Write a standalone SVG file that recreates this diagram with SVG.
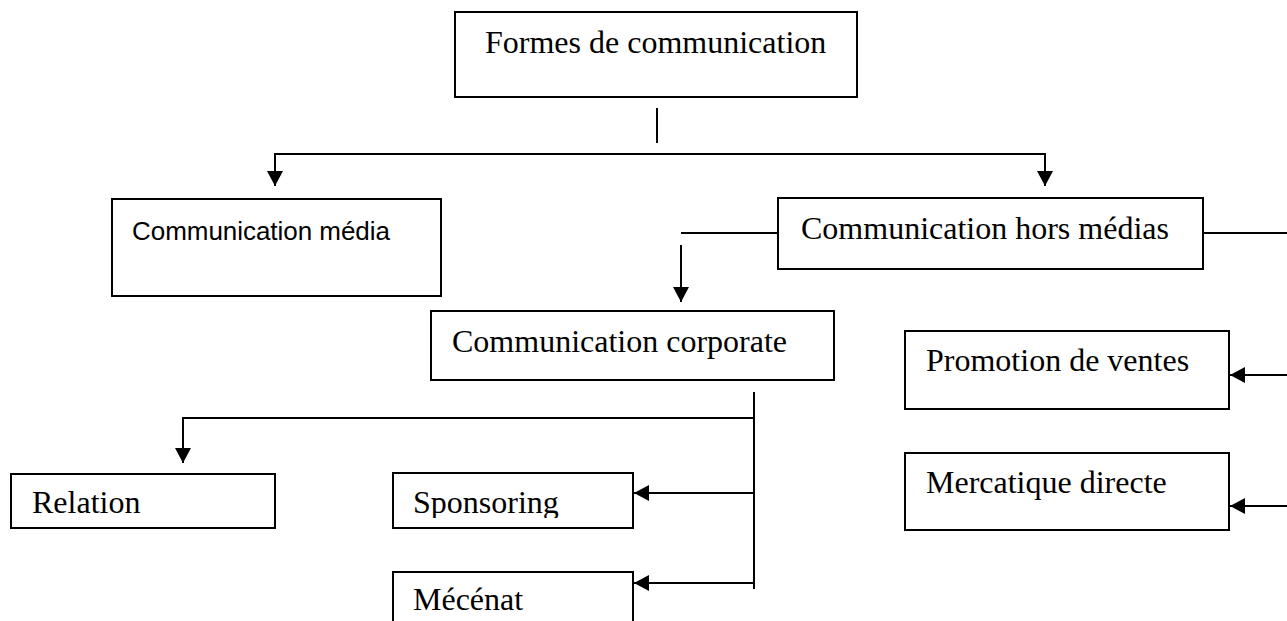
<svg xmlns="http://www.w3.org/2000/svg" width="1287" height="621" viewBox="0 0 1287 621">
<style>
.box{fill:#fff;stroke:#000;stroke-width:2}
.t{font-family:"Liberation Serif","Times New Roman",serif;font-size:32px;fill:#000}
.s{font-family:"Liberation Sans",Arial,sans-serif;font-size:26px;fill:#000}
.c{fill:none;stroke:#000;stroke-width:2}
</style>
<defs>
<marker id="ah" markerUnits="userSpaceOnUse" markerWidth="17" markerHeight="17" refX="15" refY="8" orient="auto">
<path d="M0,0 L15,8 L0,16 z" fill="#000"/>
</marker>
<clipPath id="clipSpons"><rect x="393" y="473" width="240" height="45"/></clipPath>
</defs>
<rect width="1287" height="621" fill="#fff"/>
<g id="connectors">
<line class="c" x1="657" y1="108" x2="657" y2="143"/>
<line class="c" x1="274" y1="154" x2="1046" y2="154"/>
<line class="c" x1="275" y1="154" x2="275" y2="186" marker-end="url(#ah)"/>
<line class="c" x1="1045" y1="154" x2="1045" y2="186" marker-end="url(#ah)"/>
<line class="c" x1="681" y1="233" x2="778" y2="233"/>
<line class="c" x1="681" y1="245" x2="681" y2="302" marker-end="url(#ah)"/>
<line class="c" x1="1203" y1="233" x2="1287" y2="233"/>
<line class="c" x1="1287" y1="375" x2="1230" y2="375" marker-end="url(#ah)"/>
<line class="c" x1="1287" y1="506" x2="1230" y2="506" marker-end="url(#ah)"/>
<line class="c" x1="754" y1="392" x2="754" y2="589"/>
<line class="c" x1="183" y1="418" x2="755" y2="418"/>
<line class="c" x1="183" y1="417" x2="183" y2="463" marker-end="url(#ah)"/>
<line class="c" x1="755" y1="493" x2="634" y2="493" marker-end="url(#ah)"/>
<line class="c" x1="755" y1="583" x2="634" y2="583" marker-end="url(#ah)"/>
</g>
<g id="n-formes">
<rect class="box" x="455" y="12" width="402" height="85"/>
<text class="t" x="485" y="53">Formes de communication</text>
</g>
<g id="n-media">
<rect class="box" x="112" y="199" width="329" height="97"/>
<text class="s" x="132" y="240" textLength="258">Communication média</text>
</g>
<g id="n-hors">
<rect class="box" x="778" y="198" width="425" height="71"/>
<text class="t" x="801" y="239">Communication hors médias</text>
</g>
<g id="n-corporate">
<rect class="box" x="431" y="311" width="403" height="69"/>
<text class="t" x="452" y="352">Communication corporate</text>
</g>
<g id="n-promotion">
<rect class="box" x="905" y="331" width="324" height="78"/>
<text class="t" x="926" y="371">Promotion de ventes</text>
</g>
<g id="n-mercatique">
<rect class="box" x="905" y="453" width="324" height="77"/>
<text class="t" x="926" y="493">Mercatique directe</text>
</g>
<g id="n-relation">
<rect class="box" x="11" y="474" width="264" height="54"/>
<text class="t" x="32" y="513">Relation</text>
</g>
<g id="n-sponsoring">
<rect class="box" x="393" y="473" width="240" height="55"/>
<text class="t" x="413" y="513" clip-path="url(#clipSpons)">Sponsoring</text>
</g>
<g id="n-mecenat">
<rect class="box" x="393" y="572" width="240" height="60"/>
<text class="t" x="413" y="610">Mécénat</text>
</g>
</svg>
